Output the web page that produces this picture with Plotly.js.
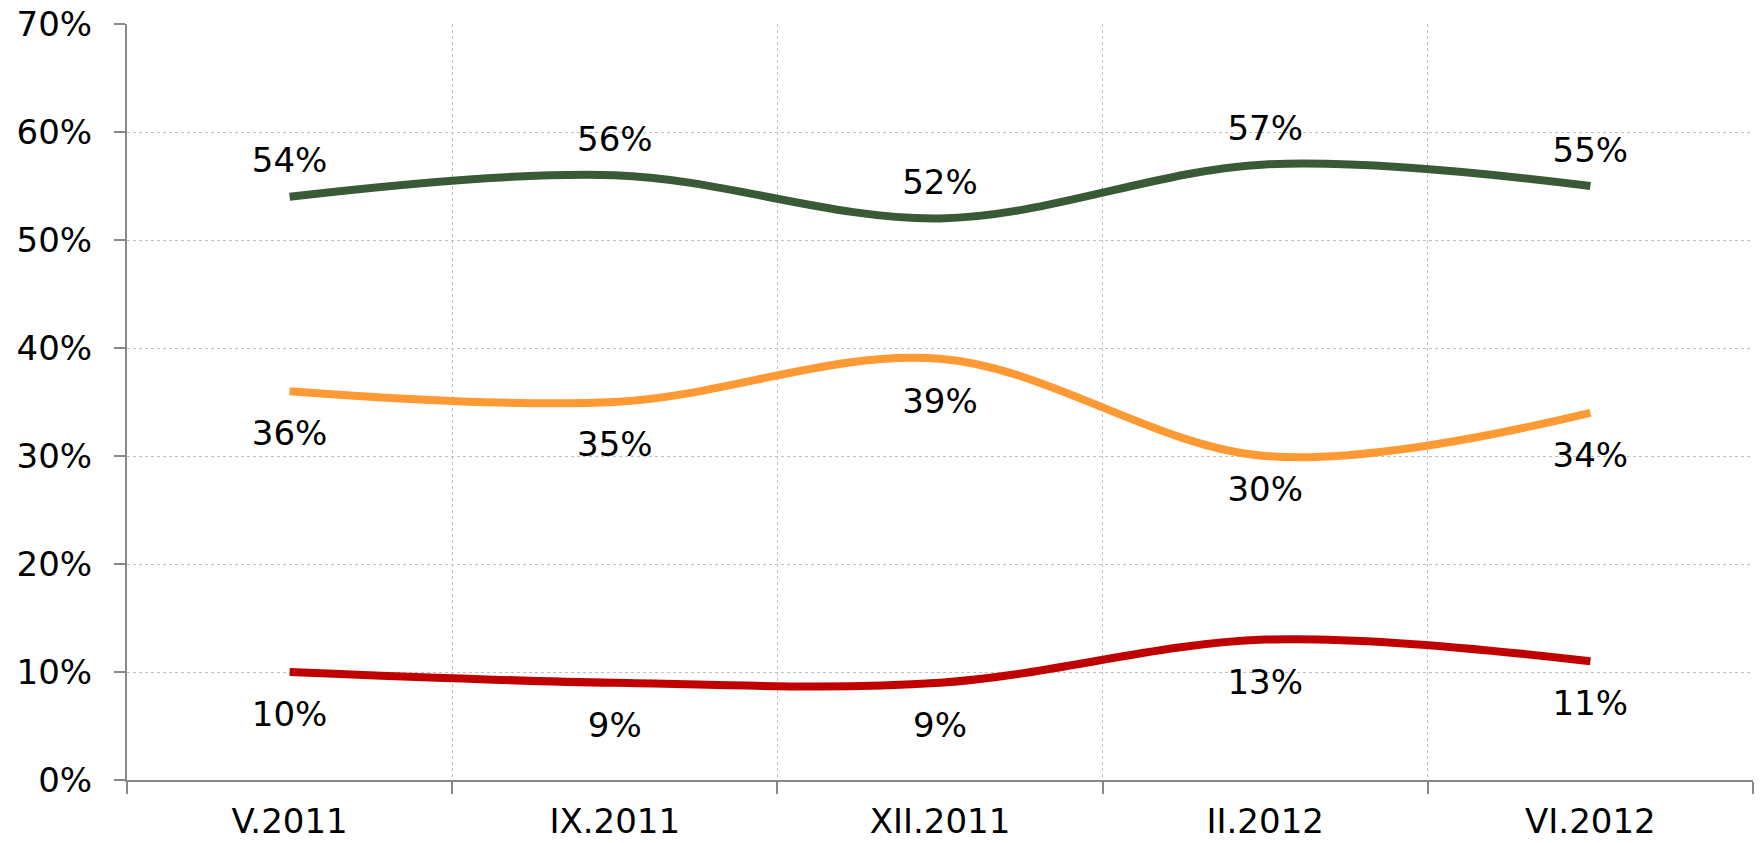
<!DOCTYPE html>
<html>
<head>
<meta charset="utf-8">
<script src="https://cdn.plot.ly/plotly-3.0.1.min.js"></script>
<style>html,body{margin:0;padding:0;background:#fff;}#chart{width:1761px;height:843px;}</style>
</head>
<body>
<div id="chart"></div>
<script>
const categories = ["V.2011", "IX.2011", "XII.2011", "II.2012", "VI.2012"];
const greenValues = [54, 56, 52, 57, 55];
const orangeValues = [36, 35, 39, 30, 34];
const redValues = [10, 9, 9, 13, 11];
const yTickValues = [0, 10, 20, 30, 40, 50, 60, 70];
const yTickLabels = ["0%", "10%", "20%", "30%", "40%", "50%", "60%", "70%"];

const FONT = "DejaVu Sans, Verdana, sans-serif";
const FS = 34;

function series(vals, color, pos, msize) {
  return {
    type: "scatter",
    mode: "lines+markers+text",
    x: categories,
    y: vals.map(v => v / 100),
    text: vals.map(v => v + "%"),
    textposition: pos,
    textfont: {family: FONT, size: FS, color: "#000"},
    line: {color: color, width: 8, shape: "spline", smoothing: 1},
    marker: {size: msize, opacity: 0, color: color},
    hoverinfo: "skip",
    cliponaxis: false,
    showlegend: false
  };
}

const data = [
  series(greenValues, "#3A5A37", "top center", 24),
  series(orangeValues, "#FF9933", "bottom center", [44, 44, 44, 29, 44]),
  series(redValues, "#C00000", "bottom center", 44)
];

const layout = {
  width: 1761, height: 843,
  margin: {l: 127, r: 8, t: 24, b: 63},
  paper_bgcolor: "#fff", plot_bgcolor: "#fff",
  font: {family: FONT, size: FS, color: "#000"},
  showlegend: false,
  xaxis: {
    type: "category",
    tickson: "boundaries",
    range: [-0.5, 4.5],
    showline: true, linecolor: "#888888", linewidth: 2,
    ticks: "outside", ticklen: 12, tickwidth: 2, tickcolor: "#888888",
    showgrid: true, gridcolor: "#c0c0c0", gridwidth: 1, griddash: "dot",
    tickfont: {family: FONT, size: FS, color: "#000"},
    ticklabelstandoff: 10,
    zeroline: false, fixedrange: true
  },
  yaxis: {
    range: [0, 0.7],
    tickvals: yTickValues.map(v => v / 100),
    ticktext: yTickLabels,
    showline: true, linecolor: "#888888", linewidth: 2,
    ticks: "outside", ticklen: 11, tickwidth: 2, tickcolor: "#888888",
    showgrid: true, gridcolor: "#c0c0c0", gridwidth: 1, griddash: "dot",
    tickfont: {family: FONT, size: FS, color: "#000"},
    ticklabelstandoff: 15,
    zeroline: false, fixedrange: true
  }
};

Plotly.newPlot("chart", data, layout, {displayModeBar: false, staticPlot: true});
</script>
</body>
</html>
